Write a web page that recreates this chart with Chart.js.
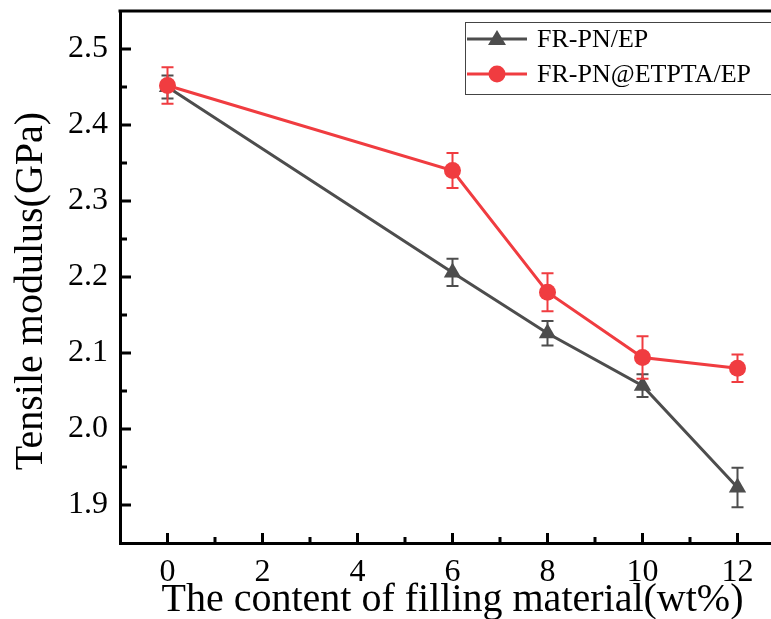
<!DOCTYPE html>
<html>
<head>
<meta charset="utf-8">
<script src="https://cdn.jsdelivr.net/npm/chart.js@4/dist/chart.umd.min.js"></script>
<style>
  html, body { margin: 0; padding: 0; background: #fff; overflow: hidden; }
  #wrap { width: 771px; height: 619px; overflow: hidden; position: relative; }
  canvas { display: block; }
</style>
</head>
<body>
<div id="wrap"><canvas id="c" width="800" height="619" style="width:800px;height:619px"></canvas></div>
<script>
// ---- data ----
const contents = [0, 6, 8, 10, 12];
const frpnEp = [2.450, 2.206, 2.126, 2.057, 1.923];
const frpnEpErr = [0.015, 0.018, 0.016, 0.015, 0.026];
const frpnEtptaEp = [2.452, 2.340, 2.180, 2.094, 2.080];
const frpnEtptaEpErr = [0.024, 0.023, 0.025, 0.028, 0.018];
const seriesNames = ['FR-PN/EP', 'FR-PN@ETPTA/EP'];
const xTickValues = [0, 2, 4, 6, 8, 10, 12];
const yTickValues = [1.9, 2.0, 2.1, 2.2, 2.3, 2.4, 2.5];
const xTitle = 'The content of filling material(wt%)';
const yTitle = 'Tensile modulus(GPa)';

const GRAY = '#4d4d4d';
const RED = '#f03c40';
const FONT = "'Liberation Serif', 'Times New Roman', serif";

const errors = [frpnEpErr, frpnEtptaEpErr];

const errorBarPlugin = {
  id: 'errorBars',
  beforeDatasetDraw(chart, args) {
    const ctx = chart.ctx;
    const ds = chart.data.datasets[args.index];
    const errs = errors[args.index];
    const xs = chart.scales.x, ys = chart.scales.y;
    ctx.save();
    ctx.strokeStyle = ds.borderColor;
    ctx.lineWidth = 2;
    ds.data.forEach((p, i) => {
      const px = xs.getPixelForValue(p.x);
      const top = ys.getPixelForValue(p.y + errs[i]);
      const bot = ys.getPixelForValue(p.y - errs[i]);
      ctx.beginPath();
      ctx.moveTo(px, top); ctx.lineTo(px, bot);
      ctx.moveTo(px - 6, top); ctx.lineTo(px + 6, top);
      ctx.moveTo(px - 6, bot); ctx.lineTo(px + 6, bot);
      ctx.stroke();
    });
    ctx.restore();
  }
};

const frameTicksPlugin = {
  id: 'frameTicks',
  afterDraw(chart) {
    const ctx = chart.ctx;
    const a = chart.chartArea;
    const xs = chart.scales.x, ys = chart.scales.y;
    ctx.save();
    ctx.strokeStyle = '#000';
    ctx.lineWidth = 3;
    // top frame line
    ctx.beginPath();
    ctx.moveTo(a.left - 1.5, a.top);
    ctx.lineTo(chart.width, a.top);
    ctx.stroke();
    // x ticks (inside)
    ctx.beginPath();
    xTickValues.forEach((v, i) => {
      const px = xs.getPixelForValue(v);
      ctx.moveTo(px, a.bottom); ctx.lineTo(px, a.bottom - 10);
      if (i < xTickValues.length - 1) {
        const mx = xs.getPixelForValue((v + xTickValues[i + 1]) / 2);
        ctx.moveTo(mx, a.bottom); ctx.lineTo(mx, a.bottom - 6);
      }
    });
    // y ticks (inside)
    yTickValues.forEach((v, i) => {
      const py = ys.getPixelForValue(v);
      ctx.moveTo(a.left, py); ctx.lineTo(a.left + 11, py);
      if (i < yTickValues.length - 1) {
        const my = ys.getPixelForValue((v + yTickValues[i + 1]) / 2);
        ctx.moveTo(a.left, my); ctx.lineTo(a.left + 7, my);
      }
    });
    ctx.stroke();

    // y axis title
    ctx.save();
    ctx.translate(31, (a.top + a.bottom) / 2 + 14);
    ctx.rotate(-Math.PI / 2);
    ctx.fillStyle = '#000';
    ctx.font = '40px ' + FONT;
    ctx.textAlign = 'center';
    ctx.textBaseline = 'middle';
    ctx.fillText(yTitle, 0, 0);
    ctx.restore();

    // legend
    const lx = 465, ly = 22, lh = 72;
    ctx.lineWidth = 1;
    ctx.strokeStyle = '#444';
    ctx.fillStyle = '#fff';
    ctx.fillRect(lx, ly, chart.width - lx, lh);
    ctx.strokeRect(lx + 0.5, ly + 0.5, chart.width, lh);
    const rows = [39, 74];
    chart.data.datasets.forEach((ds, i) => {
      const y = rows[i];
      ctx.strokeStyle = ds.borderColor;
      ctx.lineWidth = 3;
      ctx.beginPath(); ctx.moveTo(467, y); ctx.lineTo(527, y); ctx.stroke();
      ctx.fillStyle = ds.borderColor;
      if (ds.pointStyle === 'triangle') {
        ctx.beginPath();
        ctx.moveTo(497, y - 9); ctx.lineTo(506, y + 6); ctx.lineTo(488, y + 6); ctx.closePath();
        ctx.fill();
      } else {
        ctx.beginPath(); ctx.arc(497, y, 8.5, 0, Math.PI * 2); ctx.fill();
      }
      ctx.fillStyle = '#000';
      ctx.font = '26px ' + FONT;
      ctx.textBaseline = 'middle';
      ctx.textAlign = 'left';
      ctx.fillText(ds.label, 537, y + 1);
    });
    ctx.restore();
  }
};

new Chart(document.getElementById('c'), {
  type: 'line',
  data: {
    datasets: [
      {
        label: seriesNames[0],
        data: contents.map((x, i) => ({x, y: frpnEp[i]})),
        borderColor: GRAY, backgroundColor: GRAY,
        borderWidth: 3, pointStyle: 'triangle', pointRadius: 10,
        pointBorderWidth: 0, pointBackgroundColor: GRAY, order: 1
      },
      {
        label: seriesNames[1],
        data: contents.map((x, i) => ({x, y: frpnEtptaEp[i]})),
        borderColor: RED, backgroundColor: RED,
        borderWidth: 3, pointStyle: 'circle', pointRadius: 8.5,
        pointBorderWidth: 0, pointBackgroundColor: RED, order: 0
      }
    ]
  },
  options: {
    responsive: false,
    animation: false,
    events: [],
    layout: { padding: { top: 11, right: 15, left: 0, bottom: 0 } },
    plugins: { legend: { display: false }, tooltip: { enabled: false } },
    scales: {
      x: {
        type: 'linear', min: -1, max: 13,
        afterBuildTicks: s => { s.ticks = xTickValues.map(v => ({value: v})); },
        afterFit: s => { s.height = 76; s.paddingLeft = 0; s.paddingRight = 0; },
        grid: { display: false, drawTicks: false },
        border: { display: true, color: '#000', width: 3 },
        ticks: { padding: 10, color: '#000', font: { family: FONT, size: 32 }, callback: v => String(v) },
        title: { display: true, text: xTitle, color: '#000', font: { family: FONT, size: 40, lineHeight: 0.95 }, padding: 0 }
      },
      y: {
        type: 'linear', min: 1.85, max: 2.55,
        afterBuildTicks: s => { s.ticks = yTickValues.map(v => ({value: v})); },
        afterFit: s => { s.width = 120; s.paddingTop = 0; s.paddingBottom = 0; },
        grid: { display: false, drawTicks: false },
        border: { display: true, color: '#000', width: 3 },
        ticks: { padding: 12, color: '#000', font: { family: FONT, size: 32 }, callback: v => Number(v).toFixed(1) },
        title: { display: false, text: yTitle }
      }
    }
  },
  plugins: [errorBarPlugin, frameTicksPlugin]
});
</script>
</body>
</html>
